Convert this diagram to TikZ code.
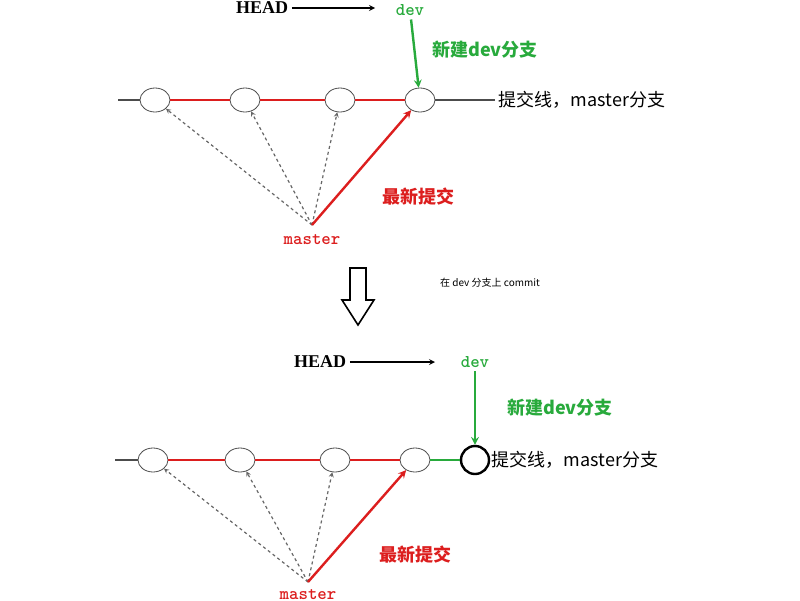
\documentclass[tikz,border=0pt]{standalone}
\usepackage{fontspec}
\setmainfont{Liberation Serif}
\newfontfamily\cjk{Noto Sans CJK SC}
\definecolor{gitgreen}{RGB}{40,170,60}
\definecolor{gitred}{RGB}{220,30,30}
\newcommand{\bigtxt}{\fontsize{18}{20}\selectfont}
\tikzset{
  commit/.style={draw=black!70, thick, ellipse, minimum width=30pt, minimum height=24pt, inner sep=0pt},
  newcommit/.style={draw, circle, line width=2.4pt, minimum size=28pt, inner sep=0pt},
  lbl/.style={font=\cjk\bfseries\bigtxt},
  ptr/.style={font=\ttfamily\bfseries\bigtxt},
  every picture/.style={line width=1.2pt},
}
\usetikzlibrary{shapes.geometric}
\begin{document}
\begin{tikzpicture}[>=stealth, x=1pt, y=-1pt]
  \useasboundingbox (0,0) rectangle (800,600);
  % before commit
  \node[font=\bfseries\bigtxt] (head1) at (262,8) {HEAD};
  \node[ptr, gitgreen] (dev1) at (410,10) {dev};
  \draw[->, line width=1.6pt] (head1) -- (375,8);
  \coordinate (s1) at (118,100);
  \foreach \i/\x in {1/155, 2/245, 3/340, 4/420} {
    \node[commit] (a\i) at (\x,100) {};
  }
  \draw[black!70] (s1) -- (a1);
  \draw[gitred, line width=2.4pt] (a1) -- (a2) (a2) -- (a3) (a3) -- (a4);
  \draw[black!70] (a4) -- (495,100) node[right, black, font=\cjk\bigtxt] {提交线，master分支};
  \draw[->, gitgreen, line width=2.4pt] (dev1) -- (a4);
  \node[lbl, gitgreen] at (485,50) {新建dev分支};
  \node[ptr, gitred] (m1) at (312,240) {master};
  \coordinate (o1) at (312,225);
  \foreach \i in {1,2,3} \draw[->, dashed, black!60] (o1) -- (a\i);
  \draw[->, gitred, line width=2.4pt] (o1) -- (a4);
  \node[lbl, gitred] at (418,197) {最新提交};
  % step
  \draw[line width=1.6pt] (350,268) -- (366,268) -- (366,300) -- (374,300) -- (358,325) -- (342,300) -- (350,300) -- cycle;
  \node[font=\cjk\normalsize] at (490,283) {在 dev 分支上 commit};
  % after commit
  \node[font=\bfseries\bigtxt] (head2) at (320,362) {HEAD};
  \node[ptr, gitgreen] (dev2) at (475,362) {dev};
  \draw[->, line width=1.6pt] (head2) -- (435,362);
  \coordinate (s2) at (115,460);
  \foreach \i/\x in {1/153, 2/240, 3/335, 4/415} {
    \node[commit] (b\i) at (\x,460) {};
  }
  \node[newcommit] (b5) at (475,460) {};
  \draw[black!70] (s2) -- (b1);
  \draw[gitred, line width=2.4pt] (b1) -- (b2) (b2) -- (b3) (b3) -- (b4);
  \draw[gitgreen, line width=2.4pt] (b4) -- (b5);
  \node[right, inner sep=1pt, font=\cjk\bigtxt] at (b5.east) {提交线，master分支};
  \draw[->, gitgreen, line width=2.4pt] (dev2) -- (b5);
  \node[lbl, gitgreen] at (560,408) {新建dev分支};
  \node[ptr, gitred] (m2) at (308,595) {master};
  \coordinate (o2) at (308,582);
  \foreach \i in {1,2,3} \draw[->, dashed, black!60] (o2) -- (b\i);
  \draw[->, gitred, line width=2.4pt] (o2) -- (b4);
  \node[lbl, gitred] at (415,555) {最新提交};
\end{tikzpicture}
\end{document}
